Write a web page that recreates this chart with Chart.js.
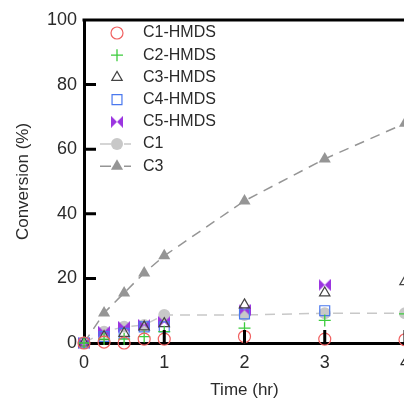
<!DOCTYPE html>
<html><head><meta charset="utf-8">
<script src="https://cdn.jsdelivr.net/npm/chart.js@4.4.1/dist/chart.umd.min.js"></script>
<style>html,body{margin:0;padding:0;overflow:hidden;background:#fff;width:404px;height:398px}canvas{display:block}</style>
</head><body><canvas id="c" width="420" height="398" style="width:420px;height:398px"></canvas>
<script>
const times = [0, 0.25, 0.5, 0.75, 1, 2, 3, 4];
const c1Hmds = [0, 0.3, 0, 1.2, 1.2, 2, 1.2, 1];
const c2Hmds = [0, 1.2, 1.2, 2, 3.5, 4.6, 7, 9];
const c3Hmds = [0, 2, 3, 5, 6, 11.8, 15.5, 19];
const c4Hmds = [0, 2, 3, 5, 5, 9, 10, null];
const c5Hmds = [0, 3.5, 5, 5.6, 6.5, 10.2, 18, null];
const c1 = [0, 3.5, 5, 5.6, 8.7, 8.7, 9.2, 9.2];
const c3 = [0, 9.3, 15.5, 21.7, 27, 44, 57, 68];
const xTicks = [0, 1, 2, 3, 4];
const yTicks = [0, 20, 40, 60, 80, 100];
const seriesNames = ['C1-HMDS', 'C2-HMDS', 'C3-HMDS', 'C4-HMDS', 'C5-HMDS', 'C1', 'C3'];

function bowtie(color) {
  const s = 12, cv = document.createElement('canvas');
  cv.width = s; cv.height = s;
  const g = cv.getContext('2d');
  g.fillStyle = color;
  g.beginPath();
  g.moveTo(0, 0); g.lineTo(s / 2, s / 2); g.lineTo(0, s); g.closePath();
  g.moveTo(s, 0); g.lineTo(s / 2, s / 2); g.lineTo(s, s); g.closePath();
  g.fill();
  return cv;
}
const pts = arr => times.map((t, i) => ({x: t, y: arr[i]}));
const clear = 'rgba(0,0,0,0)';

function marker(name, arr, style, border, fill, radius, bw) {
  return {label: name, data: pts(arr), showLine: false, pointStyle: style,
    pointBorderColor: border, pointBackgroundColor: fill, borderColor: border,
    pointRadius: radius, pointBorderWidth: bw, clip: false};
}
function curve(name, arr, style, color, radius) {
  return {label: name, data: pts(arr), showLine: true, borderColor: color, borderWidth: 1.5,
    borderDash: [10, 7], pointStyle: style, pointBackgroundColor: color, pointBorderColor: color,
    pointRadius: radius, pointBorderWidth: 0, clip: false, fill: false, tension: 0};
}

const datasets = [
  marker(seriesNames[0], c1Hmds, 'circle', '#f06060', clear, 6, 1.2),
  marker(seriesNames[1], c2Hmds, 'cross', '#3ccc3c', clear, 6, 1.3),
  marker(seriesNames[2], c3Hmds, 'triangle', '#444444', clear, 6, 1.2),
  marker(seriesNames[3], c4Hmds, 'rect', '#4a78ee', clear, 7, 1.2),
  marker(seriesNames[4], c5Hmds, bowtie('#9b35e0'), '#9b35e0', '#9b35e0', 6, 0),
  curve(seriesNames[5], c1, 'circle', '#c8c8c8', 6),
  curve(seriesNames[6], c3, 'triangle', '#959595', 7)
];

const framePlugin = {id: 'frame', afterDatasetsDraw(chart) {
  const {ctx, chartArea: a, scales: {x, y}} = chart;
  ctx.save();
  ctx.strokeStyle = '#000'; ctx.lineWidth = 3; ctx.setLineDash([]);
  ctx.beginPath();
  ctx.moveTo(a.left - 1.5, a.top); ctx.lineTo(a.right + 20, a.top);
  xTicks.forEach(v => { if (v === 0) return; const px = x.getPixelForValue(v); ctx.moveTo(px, a.bottom); ctx.lineTo(px, a.bottom - 13); });
  yTicks.forEach(v => { if (v === 0) return; const py = y.getPixelForValue(v); ctx.moveTo(a.left, py); ctx.lineTo(a.left + 12, py); });
  ctx.stroke();
  ctx.restore();
}};

const legendPlugin = {id: 'lg', afterDatasetsDraw(chart) {
  const ctx = chart.ctx;
  ctx.save();
  chart.data.datasets.forEach((ds, i) => {
    const y = 33 + i * 22.2;
    if (ds.showLine) {
      ctx.strokeStyle = ds.borderColor; ctx.lineWidth = 1.5; ctx.setLineDash([]);
      ctx.beginPath(); ctx.moveTo(100, y); ctx.lineTo(111, y); ctx.moveTo(124, y); ctx.lineTo(131, y); ctx.stroke();
    }
    ctx.fillStyle = ds.pointBackgroundColor; ctx.strokeStyle = ds.pointBorderColor; ctx.lineWidth = ds.pointBorderWidth || 0;
    Chart.helpers.drawPoint(ctx, {pointStyle: ds.pointStyle, radius: ds.pointRadius, rotation: 0, borderWidth: ds.pointBorderWidth}, 117, y);
    ctx.fillStyle = '#2a2a2a'; ctx.font = '16px "Liberation Sans"'; ctx.textBaseline = 'middle'; ctx.textAlign = 'left';
    ctx.fillText(seriesNames[i], 143, y);
  });
  ctx.restore();
}};

new Chart(document.getElementById('c'), {
  type: 'line',
  data: {datasets},
  options: {
    responsive: false, animation: false, devicePixelRatio: 1,
    layout: {padding: {top: 20, right: 15, left: 0, bottom: 0}},
    plugins: {legend: {display: false}, tooltip: {enabled: false}},
    scales: {
      x: {type: 'linear', min: 0, max: 4,
        grid: {display: false, drawTicks: false}, border: {display: true, color: '#000', width: 3},
        ticks: {stepSize: 1, padding: 9, color: '#2a2a2a', maxRotation: 0, font: {family: 'Liberation Sans', size: 18}},
        afterBuildTicks: s => { s.ticks = xTicks.map(v => ({value: v})); },
        afterFit: s => { s.height = 55; },
        title: {display: true, text: 'Time (hr)', color: '#2a2a2a', font: {family: 'Liberation Sans', size: 17, lineHeight: 1}, padding: {top: 0, bottom: -1}}},
      y: {type: 'linear', min: 0, max: 100,
        grid: {display: false, drawTicks: false}, border: {display: true, color: '#000', width: 3},
        ticks: {stepSize: 20, padding: 7, color: '#2a2a2a', font: {family: 'Liberation Sans', size: 18}},
        afterBuildTicks: s => { s.ticks = yTicks.map(v => ({value: v})); },
        afterFit: s => { s.width = 84; },
        title: {display: true, text: 'Conversion (%)', color: '#2a2a2a', font: {family: 'Liberation Sans', size: 17, lineHeight: 1}, padding: {top: 14.5, bottom: 0}}}
    }
  },
  plugins: [framePlugin, legendPlugin]
});
</script></body></html>
